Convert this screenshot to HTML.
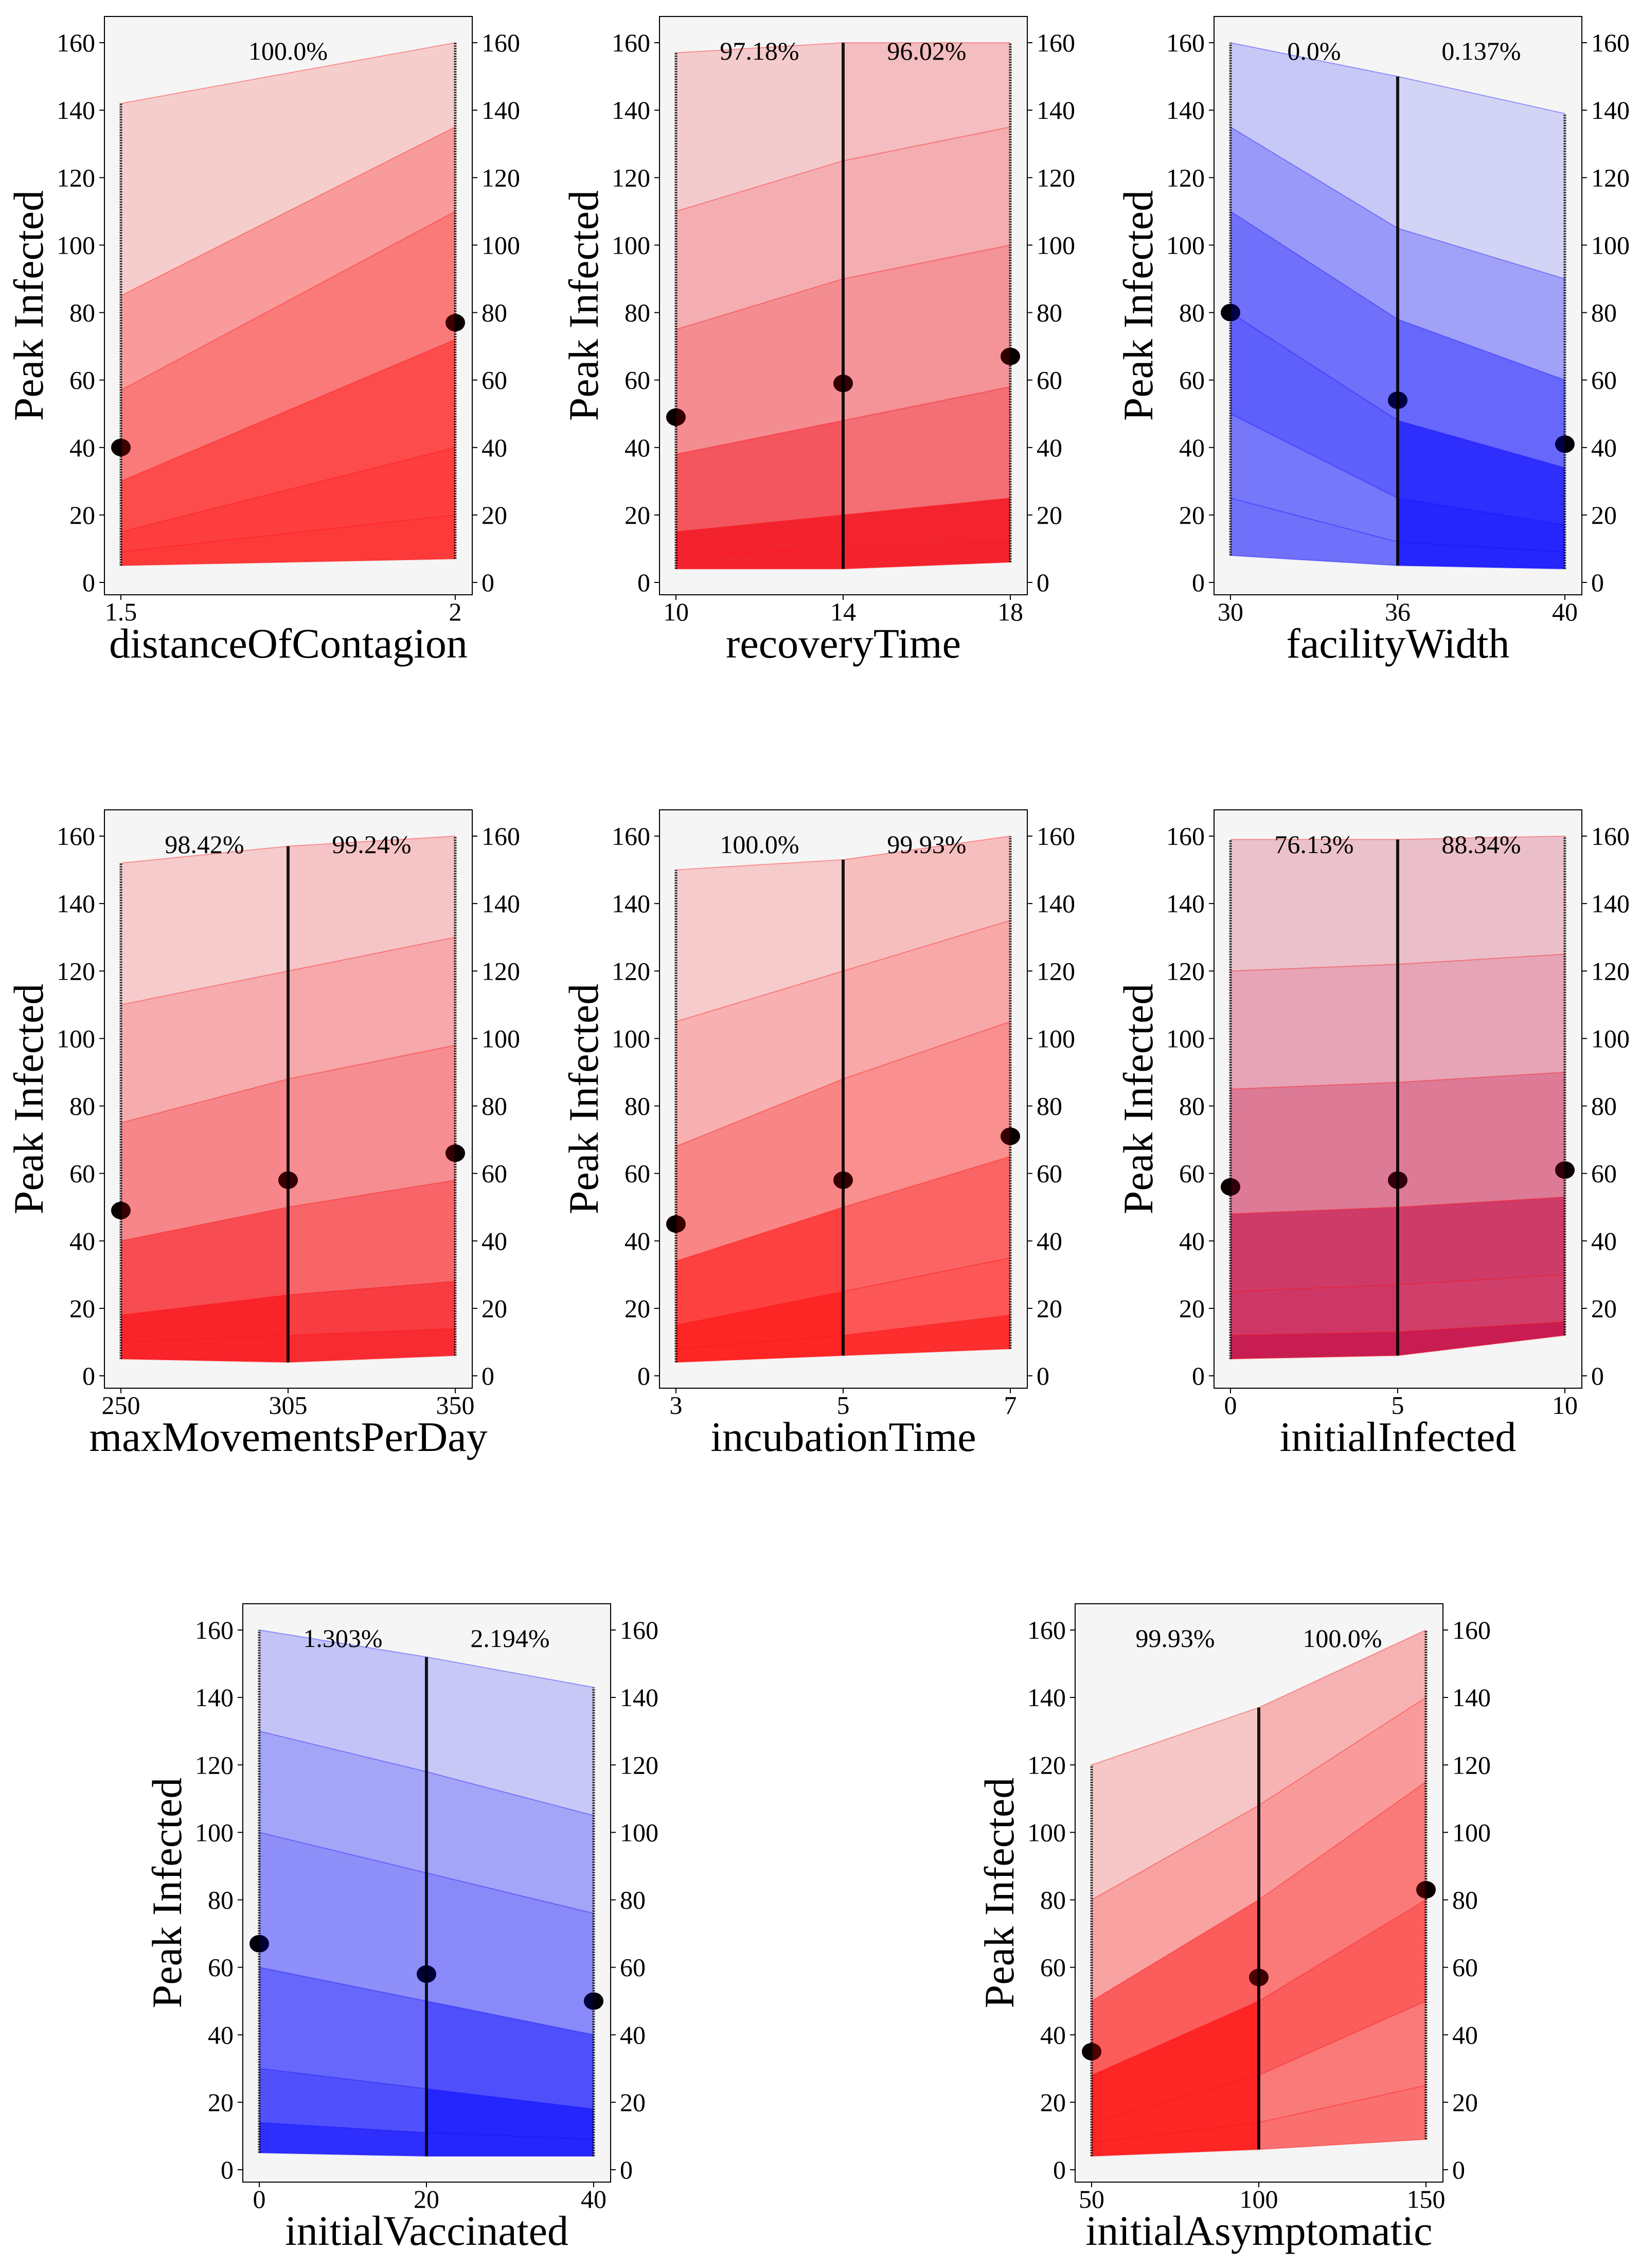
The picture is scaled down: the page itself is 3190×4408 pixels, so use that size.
<!DOCTYPE html>
<html><head><meta charset="utf-8"><style>
html,body{margin:0;padding:0;background:#fff}
svg{display:block}
text{font-family:"Liberation Serif",serif;fill:#000}
</style></head><body>
<svg id="fig" xmlns="http://www.w3.org/2000/svg" width="3190" height="4408" viewBox="0 0 3190 4408"></svg>
<script>
// ---- data (quantiles at each x level: min,10%,25%,50%,75%,90%,max) ----
const p1Ticks=["1.5","2"];const p1Means=[40,77];const p1Pcts=["100.0%"];
const p1Q=[[5,9,15,30,57,85,142],[7,20,40,72,110,135,160]];
const p2Ticks=["10","14","18"];const p2Means=[49,59,67];const p2Pcts=["97.18%","96.02%"];
const p2Q=[[4,8,15,38,75,110,157],[4,10,20,48,90,125,160],[6,12,25,58,100,135,160]];
const p3Ticks=["30","36","40"];const p3Means=[80,54,41];const p3Pcts=["0.0%","0.137%"];
const p3Q=[[8,25,50,80,110,135,160],[5,12,25,48,78,105,150],[4,9,17,34,60,90,139]];
const p4Ticks=["250","305","350"];const p4Means=[49,58,66];const p4Pcts=["98.42%","99.24%"];
const p4Q=[[5,10,18,40,75,110,152],[4,12,24,50,88,120,157],[6,14,28,58,98,130,160]];
const p5Ticks=["3","5","7"];const p5Means=[45,58,71];const p5Pcts=["100.0%","99.93%"];
const p5Q=[[4,8,15,34,68,105,150],[6,12,25,50,88,120,153],[8,18,35,65,105,135,160]];
const p6Ticks=["0","5","10"];const p6Means=[56,58,61];const p6Pcts=["76.13%","88.34%"];
const p6Q=[[5,12,25,48,85,120,159],[6,13,27,50,87,122,159],[12,16,30,53,90,125,160]];
const p7Ticks=["0","20","40"];const p7Means=[67,58,50];const p7Pcts=["1.303%","2.194%"];
const p7Q=[[5,14,30,60,100,130,160],[4,11,24,50,88,118,152],[4,9,18,40,76,105,143]];
const p8Ticks=["50","100","150"];const p8Means=[35,57,83];const p8Pcts=["99.93%","100.0%"];
const p8Q=[[4,8,14,28,50,80,120],[6,14,28,50,80,108,137],[9,25,50,80,115,140,160]];
const qMass=[0.1,0.15,0.25,0.25,0.15,0.1];
const yTicks=[0,20,40,60,80,100,120,140,160];

const panels=[
 {id:"distance-of-contagion",label:"distanceOfContagion",ticks:p1Ticks,means:p1Means,pcts:p1Pcts,q:p1Q,col:"255,0,0",mix:0,x:203,y:32},
 {id:"recovery-time",label:"recoveryTime",ticks:p2Ticks,means:p2Means,pcts:p2Pcts,q:p2Q,col:"255,0,0",mix:0.05,x:1282,y:32},
 {id:"facility-width",label:"facilityWidth",ticks:p3Ticks,means:p3Means,pcts:p3Pcts,q:p3Q,col:"0,0,255",mix:0,x:2360,y:32},
 {id:"max-movements-per-day",label:"maxMovementsPerDay",ticks:p4Ticks,means:p4Means,pcts:p4Pcts,q:p4Q,col:"255,0,0",mix:0.03,x:203,y:1574},
 {id:"incubation-time",label:"incubationTime",ticks:p5Ticks,means:p5Means,pcts:p5Pcts,q:p5Q,col:"255,0,0",mix:0,x:1282,y:1574},
 {id:"initial-infected",label:"initialInfected",ticks:p6Ticks,means:p6Means,pcts:p6Pcts,q:p6Q,col:"255,0,0",mix:0.25,x:2360,y:1574},
 {id:"initial-vaccinated",label:"initialVaccinated",ticks:p7Ticks,means:p7Means,pcts:p7Pcts,q:p7Q,col:"0,0,255",mix:0,x:472,y:3117},
 {id:"initial-asymptomatic",label:"initialAsymptomatic",ticks:p8Ticks,means:p8Means,pcts:p8Pcts,q:p8Q,col:"255,0,0",mix:0,x:2090,y:3117}
];
const W=715,H=1124,NS="http://www.w3.org/2000/svg";
const svg=document.getElementById("fig");
function mk(tag,attrs,parent){const e=document.createElementNS(NS,tag);for(const k in attrs)e.setAttribute(k,attrs[k]);parent.appendChild(e);return e;}

panels.forEach(p=>{
 const g=mk("g",{},svg);
 
 
 const n=p.ticks.length;
 const xs=i=>p.x+32+i*(W-65)/(n-1);
 const ys=v=>p.y+1100-v*(1049/160);
 const bg=mk("rect",{x:p.x,y:p.y,width:W,height:H,fill:"#f5f5f5"},g);
 
 
 p.means.forEach((m,i)=>{
  const c=mk("ellipse",{cx:xs(i),cy:ys(m),rx:19,ry:17,fill:p.col==="0,0,255"?"#000018":"#180000"},g);
  
  
 });
 for(let i=0;i<n-1;i++){
  for(let k=0;k<qMass.length;k++){
   const a0=p.q[i][k],a1=p.q[i][k+1],b0=p.q[i+1][k],b1=p.q[i+1][k+1];
   const h=((a1-a0)+(b1-b0))/2;
   const al=Math.max(0.13,Math.min(0.85,qMass[k]/Math.max(h,1)*65));
   const pts=[[xs(i),ys(a0)],[xs(i+1),ys(b0)],[xs(i+1),ys(b1)],[xs(i),ys(a1)]].map(t=>t.join(",")).join(" ");
   const band=mk("polygon",{points:pts,fill:"rgba("+p.col+","+al.toFixed(3)+")"},g);
   
   
   if(p.mix>0){
    const b2=mk("polygon",{points:pts,fill:"rgba(0,0,255,"+(al*p.mix).toFixed(3)+")"},g);
    
    
   }
  }
  for(let k=0;k<p.q[i].length;k++){
   const l=mk("line",{x1:xs(i),y1:ys(p.q[i][k]),x2:xs(i+1),y2:ys(p.q[i+1][k]),stroke:"rgba("+p.col+",0.35)","stroke-width":2},g);
   
   
  }
 }
 for(let i=0;i<n;i++){
  const mid=(i>0&&i<n-1);
  const s=mk("line",{x1:xs(i),y1:ys(p.q[i][0]),x2:xs(i),y2:ys(p.q[i][6]),stroke:"#000","stroke-width":mid?6:5,"stroke-opacity":mid?0.9:0.8,"stroke-dasharray":mid?"none":"3,2"},g);
  
  
 }
 p.means.forEach((m,i)=>{
  const c=mk("ellipse",{cx:xs(i),cy:ys(m),rx:19,ry:17,fill:"#000","fill-opacity":0.55},g);
  
  
 });
 const fr=mk("rect",{x:p.x,y:p.y,width:W,height:H,fill:"none",stroke:"#000","stroke-width":2},g);
 
 
 yTicks.forEach(v=>{
  const y=ys(v);
  mk("line",{x1:p.x-10,y1:y,x2:p.x,y2:y,stroke:"#000","stroke-width":2},g);
  mk("line",{x1:p.x+W,y1:y,x2:p.x+W+10,y2:y,stroke:"#000","stroke-width":2},g);
  const tl=mk("text",{x:p.x-18,y:y+17,"font-size":50,"text-anchor":"end"},g);tl.textContent=v;
  
  
  const tr=mk("text",{x:p.x+W+18,y:y+17,"font-size":50},g);tr.textContent=v;
  
  
 });
 p.ticks.forEach((t,i)=>{
  mk("line",{x1:xs(i),y1:p.y+H,x2:xs(i),y2:p.y+H+10,stroke:"#000","stroke-width":2},g);
  const tx=mk("text",{x:xs(i),y:p.y+H+50,"font-size":50,"text-anchor":"middle"},g);tx.textContent=t;
  
  
 });
 p.pcts.forEach((t,i)=>{
  const tx=mk("text",{x:(xs(i)+xs(i+1))/2,y:p.y+84,"font-size":50,"text-anchor":"middle"},g);tx.textContent=t;
  
  
 });
 const xl=mk("text",{x:p.x+W/2,y:p.y+H+122,"font-size":82,"text-anchor":"middle"},g);xl.textContent=p.label;
 
 
 const cy=p.y+H/2,cx=p.x-120;
 const yl=mk("text",{x:cx,y:cy,"font-size":82,"text-anchor":"middle",transform:"rotate(-90 "+cx+" "+cy+")"},g);yl.textContent="Peak Infected";
 
 
});
</script>
</body></html>
